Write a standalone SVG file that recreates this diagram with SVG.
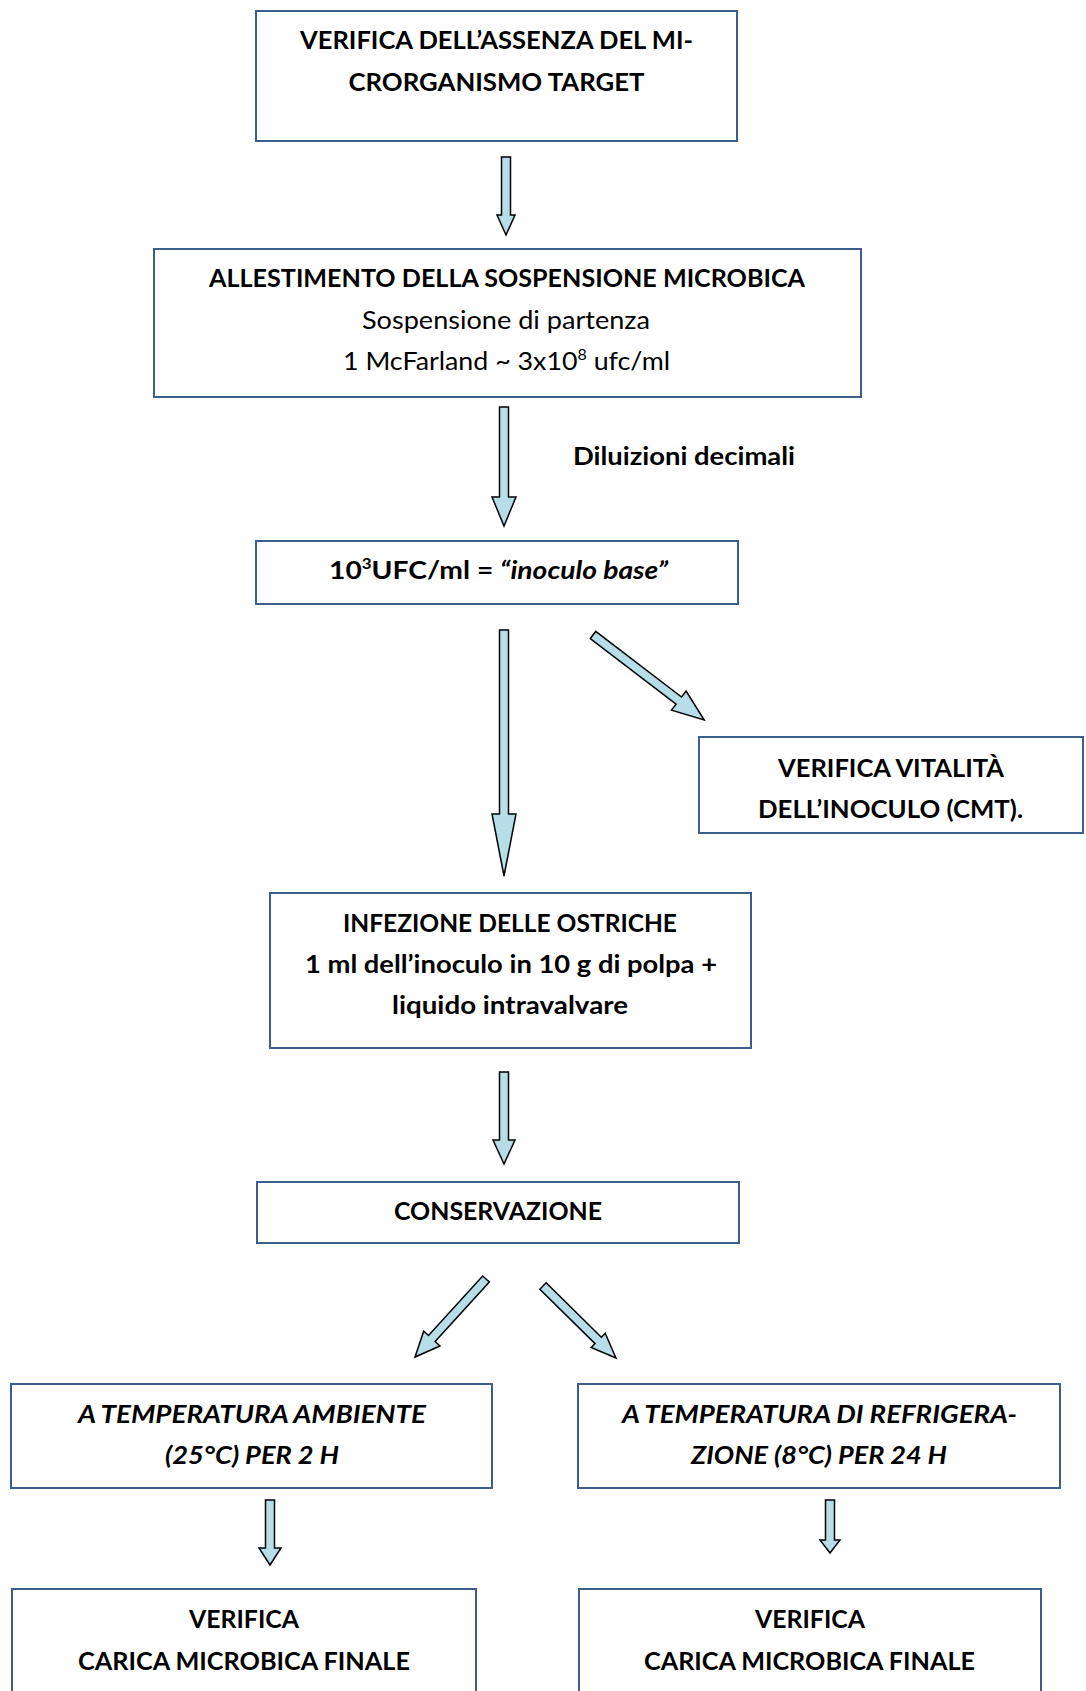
<svg xmlns="http://www.w3.org/2000/svg" width="1086" height="1691" viewBox="0 0 1086 1691">
<style>
.box{fill:#fff;stroke:#3B5E8C;stroke-width:2}
.arr{fill:#B7DDE8;stroke:#000;stroke-width:1.5;stroke-linejoin:miter}
text{font-family:Lato,"Liberation Sans",sans-serif;font-size:25px;fill:#000;text-anchor:middle}
.b{font-weight:bold}
.bi{font-weight:bold;font-style:italic}
.sup{font-size:15px}
</style>
<rect width="1086" height="1691" fill="#fff"/>
<g id="connectors">
<polygon class="arr" points="501.5,157 510.5,157 510.5,215 515,215 506,235 497,215 501.5,215"/>
<polygon class="arr" points="499.5,407 508.5,407 508.5,497 516,497 504,526 492,497 499.5,497"/>
<polygon class="arr" points="499.5,630 508.5,630 508.5,814 516,814 504,876 492,814 499.5,814"/>
<polygon class="arr" points="499.5,1072 508.5,1072 508.5,1140 515,1140 504,1164 493,1140 499.5,1140"/>
<polygon class="arr" points="265.5,1500 274.5,1500 274.5,1548 281,1548 270,1565 259,1548 265.5,1548"/>
<polygon class="arr" points="825.5,1500 834.5,1500 834.5,1540 840,1540 830,1553 820,1540 825.5,1540"/>
<polygon class="arr" transform="translate(593,635) rotate(-52.6)" points="-4.5,0 4.5,0 4.5,108 12,108 0,140 -12,108 -4.5,108"/>
<polygon class="arr" transform="translate(486,1279) rotate(42.3)" points="-4.5,0 4.5,0 4.5,80.5 11,80.5 0,105.5 -11,80.5 -4.5,80.5"/>
<polygon class="arr" transform="translate(543,1286) rotate(-45.4)" points="-4.5,0 4.5,0 4.5,77.5 10,77.5 0,102.5 -10,77.5 -4.5,77.5"/>
<text class="b" x="573" y="465" style="text-anchor:start" textLength="222" lengthAdjust="spacingAndGlyphs">Diluizioni decimali</text>
</g>
<g id="n1">
<rect class="box" x="256" y="11" width="481" height="130"/>
<text class="b" x="496.5" y="49" textLength="393" lengthAdjust="spacingAndGlyphs">VERIFICA DELL’ASSENZA DEL MI-</text>
<text class="b" x="496.5" y="91" textLength="296" lengthAdjust="spacingAndGlyphs">CRORGANISMO TARGET</text>
</g>
<g id="n2">
<rect class="box" x="154" y="249" width="707" height="148"/>
<text class="b" x="507" y="287" textLength="596" lengthAdjust="spacingAndGlyphs">ALLESTIMENTO DELLA SOSPENSIONE MICROBICA</text>
<text x="506" y="329" textLength="288" lengthAdjust="spacingAndGlyphs">Sospensione di partenza</text>
<text x="506.5" y="370" textLength="327" lengthAdjust="spacingAndGlyphs">1 McFarland ~ 3x10<tspan class="sup" dy="-10">8</tspan><tspan dy="10"> ufc/ml</tspan></text>
</g>
<g id="n3">
<rect class="box" x="256" y="541" width="482" height="63"/>
<text class="b" x="498.5" y="579" textLength="339" lengthAdjust="spacingAndGlyphs">10<tspan class="sup" dy="-10">3</tspan><tspan dy="10">UFC/ml = </tspan><tspan class="bi">“inoculo base”</tspan></text>
</g>
<g id="n4">
<rect class="box" x="699" y="737" width="384" height="96"/>
<text class="b" x="891" y="777" textLength="226" lengthAdjust="spacingAndGlyphs">VERIFICA VITALITÀ</text>
<text class="b" x="890.5" y="818" textLength="265" lengthAdjust="spacingAndGlyphs">DELL’INOCULO (CMT).</text>
</g>
<g id="n5">
<rect class="box" x="270" y="893" width="481" height="155"/>
<text class="b" x="510" y="932" textLength="334" lengthAdjust="spacingAndGlyphs">INFEZIONE DELLE OSTRICHE</text>
<text class="b" x="511" y="973" textLength="412" lengthAdjust="spacingAndGlyphs">1 ml dell’inoculo in 10 g di polpa +</text>
<text class="b" x="510" y="1014" textLength="236" lengthAdjust="spacingAndGlyphs">liquido intravalvare</text>
</g>
<g id="n6">
<rect class="box" x="257" y="1182" width="482" height="61"/>
<text class="b" x="498" y="1220" textLength="208" lengthAdjust="spacingAndGlyphs">CONSERVAZIONE</text>
</g>
<g id="n7">
<rect class="box" x="11" y="1384" width="481" height="104"/>
<text class="bi" x="252" y="1423" textLength="348" lengthAdjust="spacingAndGlyphs">A TEMPERATURA AMBIENTE</text>
<text class="bi" x="252" y="1464" textLength="174" lengthAdjust="spacingAndGlyphs">(25°C) PER 2 H</text>
</g>
<g id="n8">
<rect class="box" x="578" y="1384" width="482" height="104"/>
<text class="bi" x="819.5" y="1423" textLength="395" lengthAdjust="spacingAndGlyphs">A TEMPERATURA DI REFRIGERA-</text>
<text class="bi" x="819" y="1464" textLength="256" lengthAdjust="spacingAndGlyphs">ZIONE (8°C) PER 24 H</text>
</g>
<g id="n9">
<rect class="box" x="12" y="1589" width="464" height="130"/>
<text class="b" x="244" y="1628" textLength="110" lengthAdjust="spacingAndGlyphs">VERIFICA</text>
<text class="b" x="244" y="1670" textLength="332" lengthAdjust="spacingAndGlyphs">CARICA MICROBICA FINALE</text>
</g>
<g id="n10">
<rect class="box" x="579" y="1589" width="462" height="130"/>
<text class="b" x="810" y="1628" textLength="110" lengthAdjust="spacingAndGlyphs">VERIFICA</text>
<text class="b" x="809.5" y="1670" textLength="331" lengthAdjust="spacingAndGlyphs">CARICA MICROBICA FINALE</text>
</g>
</svg>
